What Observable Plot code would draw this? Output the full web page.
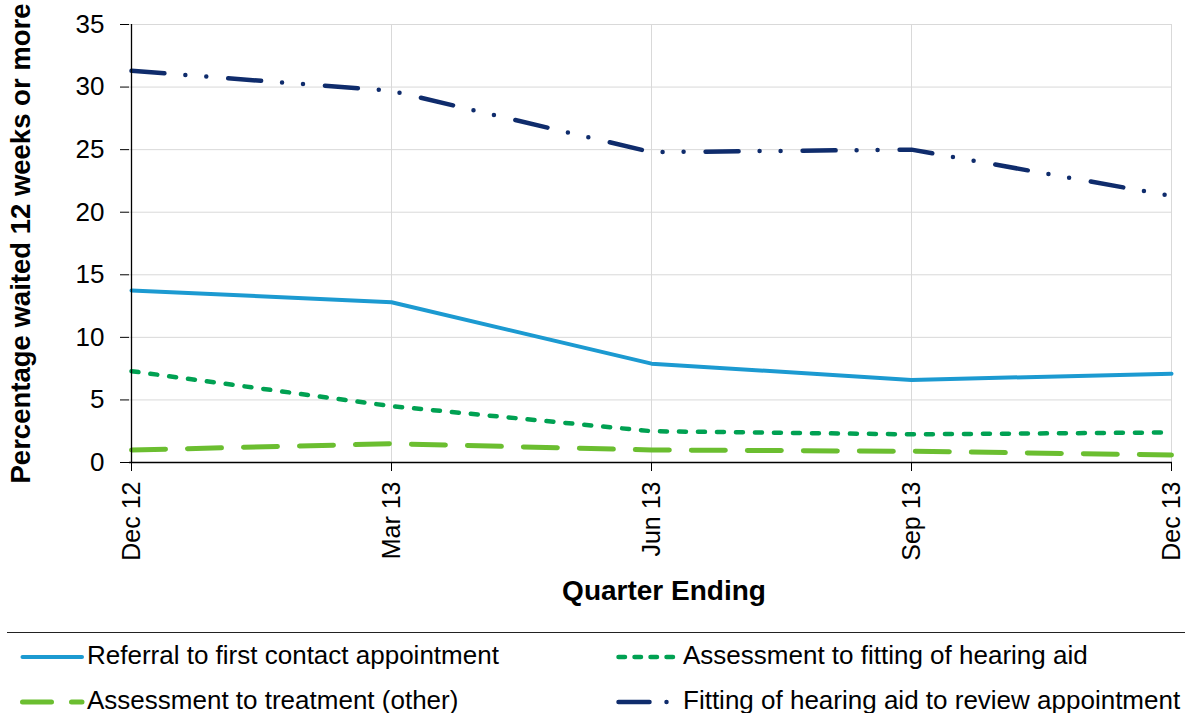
<!DOCTYPE html>
<html>
<head>
<meta charset="utf-8">
<script src="https://cdn.jsdelivr.net/npm/d3@7"></script>
<script src="https://cdn.jsdelivr.net/npm/@observablehq/plot@0.6"></script>
<style>
  html, body { margin: 0; padding: 0; background: #fff; }
  #wrap { position: relative; width: 1192px; height: 713px; font-family: "Liberation Sans", Arial, sans-serif; }
  #legend { position: absolute; left: 7px; top: 632px; width: 1178px; height: 80px; border-top: 1.5px solid #222; }
  .item { position: absolute; display: flex; align-items: center; font-size: 26px; color: #000; white-space: nowrap; }
  .item svg { margin-right: 1px; }
</style>
</head>
<body>
<div id="wrap"></div>
<script>
const quarters = ["Dec 12", "Mar 13", "Jun 13", "Sep 13", "Dec 13"];
const seriesNames = [
  "Referral to first contact appointment",
  "Assessment to fitting of hearing aid",
  "Assessment to treatment (other)",
  "Fitting of hearing aid to review appointment"
];
const referral = [13.75, 12.8, 7.9, 6.6, 7.1];
const fitting = [7.3, 4.5, 2.5, 2.25, 2.4];
const treatment = [1.0, 1.5, 1.0, 0.9, 0.6];
const review = [31.3, 29.7, 24.8, 25.0, 21.3];
const yTicks = [0, 5, 10, 15, 20, 25, 30, 35];

const styles = [
  {color: "#1C9AD1", width: 4, dash: null, legendDash: null},
  {color: "#00A152", width: 4.5, dash: "7,12", legendDash: "6.5,9.5"},
  {color: "#6BBE30", width: 5, dash: "34,22", legendDash: "29,20"},
  {color: "#0F2C6C", width: 4.5, dash: "33,21,0,21,0,22", legendDash: "31,17,0,40"}
];
const allValues = [referral, fitting, treatment, review];
const rows = [];
allValues.forEach((vals, si) => vals.forEach((v, i) => rows.push({series: seriesNames[si], q: quarters[i], v})));

const font = '"Liberation Sans", Arial, sans-serif';
const plot = Plot.plot({
  width: 1192,
  height: 630,
  marginLeft: 129,
  marginRight: 20,
  marginTop: 24,
  marginBottom: 168,
  style: {fontFamily: font, fontSize: "25px", color: "#000", background: "#fff"},
  x: {type: "point", domain: quarters, padding: 0, label: null},
  y: {domain: [0, 35], label: null},
  marks: [
    Plot.gridY(yTicks.slice(1), {stroke: "#d9d9d9", strokeOpacity: 1, strokeWidth: 1}),
    Plot.gridX(quarters.slice(1), {stroke: "#d9d9d9", strokeOpacity: 1, strokeWidth: 1}),
    ...seriesNames.map((name, si) => Plot.line(rows.filter(d => d.series === name), {
      x: "q", y: "v",
      stroke: styles[si].color,
      strokeWidth: styles[si].width,
      strokeDasharray: styles[si].dash,
      strokeLinecap: "round",
      strokeLinejoin: "round"
    })),
    Plot.ruleY([0], {stroke: "#000", strokeWidth: 1.3}),
    Plot.ruleX([quarters[0]], {y1: 0, y2: 35, stroke: "#000", strokeWidth: 1.3}),
    Plot.axisY(yTicks, {tickSize: 9, tickPadding: 16, fontSize: 26, stroke: "#000", label: null}),
    Plot.axisX(quarters, {tickSize: 9, tickPadding: 10, tickRotate: -90, fontSize: 25, stroke: "#000", label: null}),
    Plot.text(["Percentage waited 12 weeks or more"], {frameAnchor: "left", dx: -108, rotate: -90, fontSize: 27.5, fontWeight: "bold", textAnchor: "middle", lineAnchor: "middle", fill: "#000"}),
    Plot.text(["Quarter Ending"], {frameAnchor: "bottom", dx: 13, dy: 129, fontSize: 28, fontWeight: "bold", textAnchor: "middle", lineAnchor: "middle", fill: "#000"})
  ]
});
const wrap = document.getElementById("wrap");
wrap.appendChild(plot);

const legend = document.createElement("div");
legend.id = "legend";
const positions = [
  {left: 13, top: 7},
  {left: 609, top: 7},
  {left: 13, top: 52},
  {left: 609, top: 52}
];
seriesNames.forEach((name, si) => {
  const it = document.createElement("div");
  it.className = "item";
  it.style.left = positions[si].left + "px";
  it.style.top = positions[si].top + "px";
  const st = styles[si];
  const svg = d3.create("svg").attr("width", 66).attr("height", 30);
  svg.append("line").attr("x1", 2.5).attr("x2", 62).attr("y1", 16).attr("y2", 16)
    .attr("stroke", st.color).attr("stroke-width", st.width)
    .attr("stroke-linecap", "round")
    .attr("stroke-dasharray", st.legendDash);
  it.appendChild(svg.node());
  const span = document.createElement("span");
  span.textContent = name;
  it.appendChild(span);
  legend.appendChild(it);
});
wrap.appendChild(legend);
</script>
</body>
</html>
